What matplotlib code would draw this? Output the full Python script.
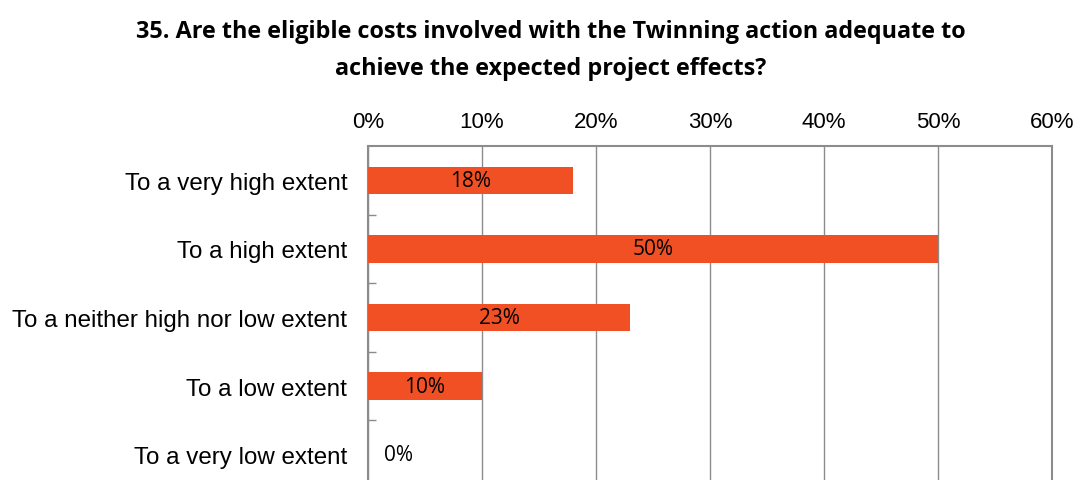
import matplotlib
matplotlib.use("Agg")
import matplotlib.pyplot as plt
import numpy as np

# data
categories = ["To a very high extent", "To a high extent",
              "To a neither high nor low extent", "To a low extent",
              "To a very low extent"]
values = [18, 50, 23, 10, 0]
x_ticks = [0, 10, 20, 30, 40, 50, 60]
title = "35. Are the eligible costs involved with the Twinning action adequate to\nachieve the expected project effects?"

bar_color = "#F15025"
grid_color = "#8C8C8C"

fig = plt.figure(figsize=(10.77, 4.81), dpi=100)
# axes runs off the bottom edge, as in the reference
ax = fig.add_axes([0.3417, -0.0187, 0.635, 0.713])

y = np.arange(len(categories))
ax.barh(y, values, height=0.4, color=bar_color, zorder=3)

for yi, v in zip(y, values):
    if v > 0:
        ax.text(v / 2, yi, f"{v}%", ha="center", va="center",
                fontsize=15, family="Open Sans", zorder=4)
    else:
        ax.annotate(f"{v}%", xy=(0, yi), xytext=(22, 0), textcoords="offset points",
                    ha="center", va="center", fontsize=15, family="Open Sans")

ax.set_xlim(0, 60)
ax.set_ylim(len(categories) - 0.5, -0.5)
ax.set_xticks(x_ticks)
ax.set_xticklabels([f"{t}%" for t in x_ticks], family="Liberation Sans", fontsize=16)
ax.xaxis.tick_top()
ax.tick_params(axis="x", length=0, pad=10)

ax.set_yticks(y)
ax.set_yticklabels(categories, family="Liberation Sans", fontsize=17.4)
ax.tick_params(axis="y", which="major", length=0, pad=15)
ax.set_yticks(np.arange(len(categories)) + 0.5, minor=True)
ax.tick_params(axis="y", which="minor", direction="in", length=6, color=grid_color, width=1)

ax.grid(axis="x", color=grid_color, linewidth=1, zorder=0)
for side in ["top", "left", "right"]:
    ax.spines[side].set_color(grid_color)
    ax.spines[side].set_linewidth(1.5)
ax.spines["bottom"].set_visible(False)

fig.text(0.511, 0.959, title, ha="center", va="top", fontsize=16.8,
         fontweight="bold", family="Open Sans", linespacing=1.75)

fig.savefig("out.png", dpi=100)
